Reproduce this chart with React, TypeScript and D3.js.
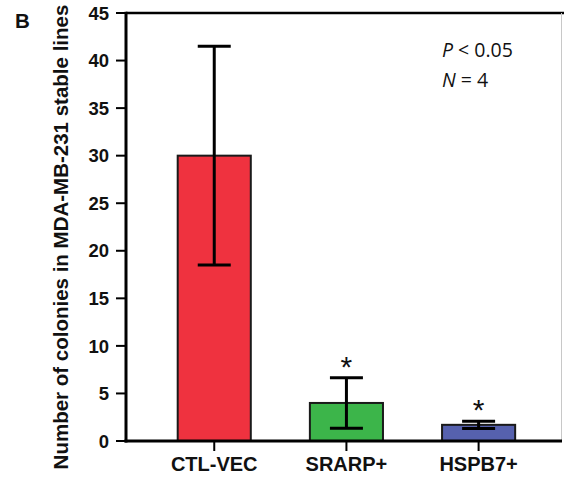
import React from "react";
import * as d3 from "d3";

const categories = ["CTL-VEC", "SRARP+", "HSPB7+"];
const means = [30, 4.0, 1.7];
const errors = [11.5, 2.65, 0.38];
const significant = [false, true, true];
const colors = ["#EF323F", "#3CB54A", "#5661AE"];
const yTicks = [0, 5, 10, 15, 20, 25, 30, 35, 40, 45];

export default function App() {
  const W = 564, H = 477;
  const x0 = 126, x1 = 561, yTop = 13, yBot = 441;
  const x = d3.scaleBand<string>().domain(categories).range([x0, x1]).paddingInner(0.447).paddingOuter(0.369).align(0.53);
  const y = d3.scaleLinear().domain([0, 45]).range([yBot, yTop]);
  const bw = x.bandwidth();
  const capW = 33;
  const bold = "'Liberation Sans', Arial, sans-serif";
  return (
    <svg width={W} height={H} style={{ position: "absolute", left: 0, top: 0, background: "#fff" }}>
      <rect x={0} y={0} width={W} height={H} fill="#fff" />
      {/* frame lines */}
      <line x1={x0} x2={W} y1={yTop} y2={yTop} stroke="#000" strokeWidth={2.5} />
      <line x1={561.5} x2={561.5} y1={yTop} y2={yBot} stroke="#c8c8c8" strokeWidth={1} />
      {/* bars */}
      {categories.map((c, i) => (
        <rect key={c} x={x(c)!} y={y(means[i])} width={bw} height={yBot - y(means[i])}
          fill={colors[i]} stroke="#1a1a1a" strokeWidth={2} />
      ))}
      {/* error bars */}
      {categories.map((c, i) => {
        const cx = x(c)! + bw / 2;
        const hi = y(means[i] + errors[i]);
        const lo = y(means[i] - errors[i]);
        return (
          <g key={c} stroke="#000" strokeWidth={3}>
            <line x1={cx} x2={cx} y1={hi} y2={lo} />
            <line x1={cx - capW / 2} x2={cx + capW / 2} y1={hi} y2={hi} />
            <line x1={cx - capW / 2} x2={cx + capW / 2} y1={lo} y2={lo} />
          </g>
        );
      })}
      {/* asterisks */}
      {categories.map((c, i) => significant[i] ? (
        <text key={c} x={x(c)! + bw / 2} y={y(means[i] + errors[i]) - 1} textAnchor="middle"
          fontFamily="'Liberation Sans', Arial, sans-serif" fontSize={30} fill="#111">*</text>
      ) : null)}
      {/* axes */}
      <line x1={x0} x2={x0} y1={yTop - 1.25} y2={yBot + 1.5} stroke="#000" strokeWidth={3} />
      <line x1={x0 - 1.5} x2={x1 + 1} y1={yBot} y2={yBot} stroke="#000" strokeWidth={3} />
      {yTicks.map(t => (
        <g key={t}>
          <line x1={x0 - 10} x2={x0} y1={y(t)} y2={y(t)} stroke="#000" strokeWidth={2} />
          <text x={109} y={y(t)} dy="0.36em" textAnchor="end" fontFamily={bold} fontWeight="bold" fontSize={18.5} fill="#111">{t}</text>
        </g>
      ))}
      {categories.map(c => (
        <g key={c}>
          <line x1={x(c)! + bw / 2} x2={x(c)! + bw / 2} y1={yBot} y2={yBot + 10} stroke="#000" strokeWidth={2} />
          <text x={x(c)! + bw / 2} y={471} textAnchor="middle" fontFamily={bold} fontWeight="bold" fontSize={20} fill="#111">{c}</text>
        </g>
      ))}
      {/* y title */}
      <text transform="translate(68,237) rotate(-90)" textAnchor="middle" fontFamily={bold} fontWeight="bold" fontSize={20.5} fill="#111">
        Number of colonies in MDA-MB-231 stable lines
      </text>
      {/* panel letter */}
      <text x={15} y={27.5} fontFamily={bold} fontWeight="bold" fontSize={20.5} fill="#111">B</text>
      {/* stats */}
      <text x={442} y={57} fontFamily="'Open Sans', sans-serif" fontSize={19.5} fill="#111">
        <tspan fontStyle="italic">P</tspan> &lt; 0.05
      </text>
      <text x={442} y={87} fontFamily="'Open Sans', sans-serif" fontSize={19.5} fill="#111">
        <tspan fontStyle="italic">N</tspan> = 4
      </text>
    </svg>
  );
}
